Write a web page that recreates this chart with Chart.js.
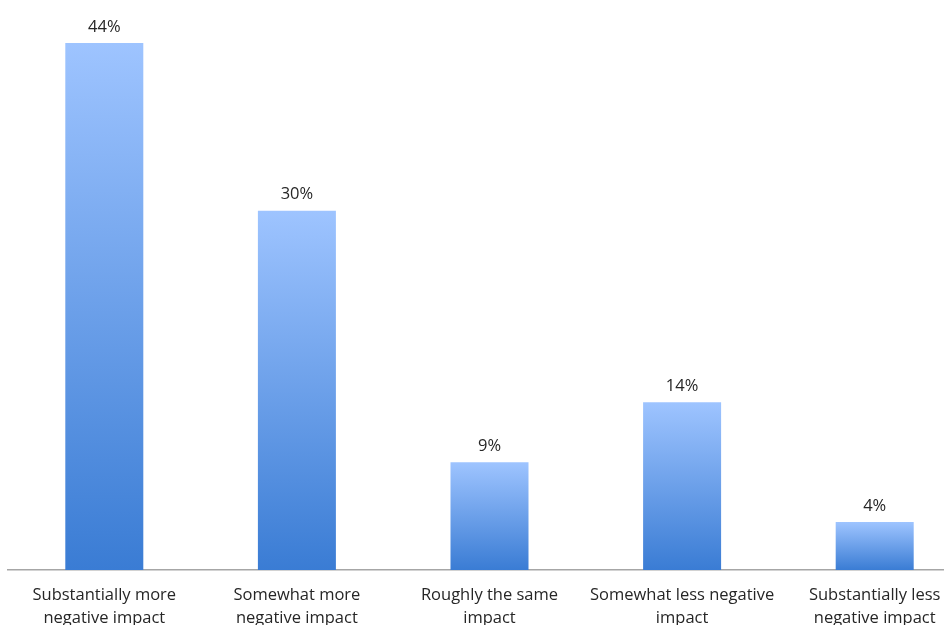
<!DOCTYPE html>
<html>
<head>
<meta charset="utf-8">
<script src="https://cdn.jsdelivr.net/npm/chart.js@4/dist/chart.umd.min.js"></script>
<style>
  html, body { margin: 0; padding: 0; background: #fff; overflow: hidden; }
  #wrap { position: absolute; left: 0; top: 0; width: 971px; height: 625px; }
</style>
</head>
<body>
<div id="wrap"><canvas id="chart" width="971" height="625"></canvas></div>
<script>
// categories shown on the x axis (two lines each)
const categories = [
  ['Substantially more', 'negative impact'],
  ['Somewhat more', 'negative impact'],
  ['Roughly the same', 'impact'],
  ['Somewhat less negative', 'impact'],
  ['Substantially less', 'negative impact']
];
// share of respondents, percent
const shares = [44, 30, 9, 14, 4];

const colors = {
  barTop: 'rgb(158, 196, 255)',
  barBottom: 'rgb(58, 124, 212)',
  axis: '#a6a6a6',
  text: '#262626'
};

// vertical gradient for every bar, light at the top and dark at the base
function barGradient(context) {
  const chart = context.chart;
  const area = chart.chartArea;
  if (!area || context.dataIndex === undefined) return colors.barTop;
  const y = chart.scales.y;
  const top = y.getPixelForValue(context.raw);
  const base = y.getPixelForValue(0);
  const g = chart.ctx.createLinearGradient(0, top, 0, base);
  g.addColorStop(0, colors.barTop);
  g.addColorStop(1, colors.barBottom);
  return g;
}

// draws the percentage above each bar
const valueLabels = {
  id: 'valueLabels',
  afterDatasetsDraw(chart) {
    const ctx = chart.ctx;
    const meta = chart.getDatasetMeta(0);
    ctx.save();
    ctx.font = '16.5px "Open Sans", sans-serif';
    ctx.fillStyle = colors.text;
    ctx.textAlign = 'center';
    ctx.textBaseline = 'bottom';
    meta.data.forEach((bar, i) => {
      ctx.fillText(shares[i] + '%', bar.x, bar.y - 8);
    });
    ctx.restore();
  }
};

new Chart(document.getElementById('chart'), {
  type: 'bar',
  data: {
    labels: categories,
    datasets: [{
      data: shares,
      backgroundColor: barGradient,
      borderWidth: 0,
      categoryPercentage: 0.405,
      barPercentage: 1
    }]
  },
  options: {
    responsive: false,
    animation: false,
    devicePixelRatio: 1,
    layout: { padding: { left: 8, right: 0, top: 0, bottom: 0 } },
    plugins: {
      legend: { display: false },
      tooltip: { enabled: false }
    },
    scales: {
      x: {
        grid: { display: false, drawTicks: false },
        border: { color: colors.axis, width: 1.5 },
        ticks: {
          color: colors.text,
          font: { family: '"Open Sans", sans-serif', size: 16.5, lineHeight: 1.4 },
          padding: 14,
          maxRotation: 0,
          autoSkip: false
        },
        afterFit(scale) { scale.height = 55; }
      },
      y: {
        display: false,
        min: 0,
        max: 47.6
      }
    }
  },
  plugins: [valueLabels]
});
</script>
</body>
</html>
